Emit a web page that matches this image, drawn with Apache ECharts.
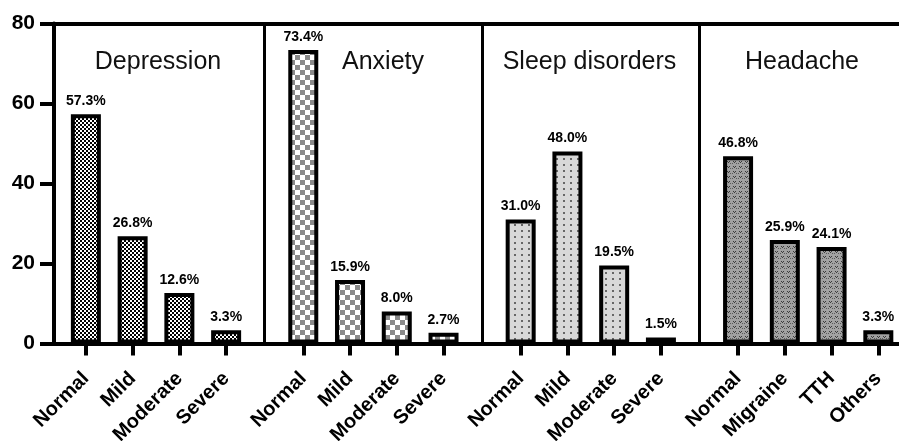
<!DOCTYPE html>
<html>
<head>
<meta charset="utf-8">
<script src="https://cdn.jsdelivr.net/npm/echarts@6/dist/echarts.min.js"></script>
<style>
  html, body { margin: 0; padding: 0; background: #fff; }
  #chart { width: 899px; height: 441px; }
</style>
</head>
<body>
<div id="chart"></div>
<script>
// Prevalence (%) by panel
const panelTitles = ['Depression', 'Anxiety', 'Sleep disorders', 'Headache'];
const depressionLevels = ['Normal', 'Mild', 'Moderate', 'Severe'];
const depressionPct = [57.3, 26.8, 12.6, 3.3];
const anxietyLevels = ['Normal', 'Mild', 'Moderate', 'Severe'];
const anxietyPct = [73.4, 15.9, 8.0, 2.7];
const sleepLevels = ['Normal', 'Mild', 'Moderate', 'Severe'];
const sleepPct = [31.0, 48.0, 19.5, 1.5];
const headacheTypes = ['Normal', 'Migraine', 'TTH', 'Others'];
const headachePct = [46.8, 25.9, 24.1, 3.3];
const yTicks = [0, 20, 40, 60, 80];

const FONT = '"Liberation Sans", Arial, Helvetica, sans-serif';

// Small tiled fills for each panel's bars
function tile(w, h, bg, draw) {
  const c = document.createElement('canvas');
  c.width = w; c.height = h;
  const g = c.getContext('2d');
  g.fillStyle = bg; g.fillRect(0, 0, w, h);
  draw(g);
  return { image: c, repeat: 'repeat' };
}
const fills = [
  // fine black checker
  tile(4, 4, '#ffffff', g => { g.fillStyle = '#000'; g.fillRect(0, 0, 2, 2); g.fillRect(2, 2, 2, 2); }),
  // coarse grey checker
  tile(10, 10, '#ffffff', g => { g.fillStyle = '#8a8a8a'; g.fillRect(0, 0, 5, 5); g.fillRect(5, 5, 5, 5); }),
  // light grey with sparse dots
  tile(7, 6, '#d8d8d8', g => { g.fillStyle = '#666'; g.fillRect(3, 2, 2, 2); }),
  // mid grey with small dark marks
  tile(6, 5, '#a2a2a2', g => {
    g.fillStyle = '#3a3a3a';
    g.fillRect(1, 1, 1, 1); g.fillRect(3, 1, 1, 1); g.fillRect(2, 2, 1, 1);
    g.fillStyle = '#5a5a5a';
    g.fillRect(4, 3, 1, 1); g.fillRect(0, 3, 1, 1);
  })
];

const groups = [
  { cats: depressionLevels, vals: depressionPct },
  { cats: anxietyLevels, vals: anxietyPct },
  { cats: sleepLevels, vals: sleepPct },
  { cats: headacheTypes, vals: headachePct }
];

// layout
const TOP = 23.5, BOTTOM = 97.5;
const FIRST_LEFT = 62.5, PERIOD = 217.4, GROUP_W = 187;
const titleX = [158, 383, 589.5, 802];

const grids = [{ left: 54, right: 0, top: TOP, bottom: BOTTOM, outerBoundsMode: 'none', containLabel: false }];
const xAxes = [
  { gridIndex: 0, type: 'value', min: 0, max: 1, position: 'bottom',
    axisLine: { show: true, onZero: false, lineStyle: { color: '#000', width: 4 } },
    axisTick: { show: false }, axisLabel: { show: false }, splitLine: { show: false } },
  { gridIndex: 0, type: 'value', min: 0, max: 1, position: 'top',
    axisLine: { show: true, onZero: false, lineStyle: { color: '#000', width: 4 } },
    axisTick: { show: false }, axisLabel: { show: false }, splitLine: { show: false } }
];
const yAxes = [
  { gridIndex: 0, type: 'value', min: 0, max: 80, interval: 20,
    axisLine: { show: true, lineStyle: { color: '#000', width: 4 } },
    axisTick: { show: true, length: 14, lineStyle: { color: '#000', width: 4 } },
    axisLabel: { margin: 19, color: '#000', fontSize: 21, fontWeight: 'bold', fontFamily: FONT,
      formatter: v => yTicks.includes(v) ? String(v) : '' },
    splitLine: { show: false } }
];
const series = [];

groups.forEach((grp, i) => {
  const gi = i + 1;
  grids.push({ left: FIRST_LEFT + i * PERIOD, width: GROUP_W, top: TOP, bottom: BOTTOM,
    outerBoundsMode: 'none', containLabel: false });
  xAxes.push({
    gridIndex: gi, type: 'category', data: grp.cats,
    axisLine: { show: false },
    axisTick: { show: true, alignWithLabel: true, length: 12, lineStyle: { color: '#000', width: 4 } },
    axisLabel: { interval: 0, rotate: 45, margin: 32, color: '#000', fontSize: 20,
      fontWeight: 'bold', fontFamily: FONT }
  });
  yAxes.push({
    gridIndex: gi, type: 'value', min: 0, max: 80, interval: 20,
    offset: 15.5,
    axisLine: { show: i > 0, lineStyle: { color: '#000', width: 3 } },
    axisTick: { show: false }, axisLabel: { show: false }, splitLine: { show: false }
  });
  series.push({
    type: 'bar', xAxisIndex: i + 2, yAxisIndex: gi, data: grp.vals,
    barWidth: 30,
    itemStyle: { color: fills[i], borderColor: '#000', borderWidth: 4 },
    label: { show: true, position: 'top', distance: 6, color: '#000', fontSize: 14,
      fontWeight: 'bold', fontFamily: FONT, formatter: p => p.value.toFixed(1) + '%' }
  });
});

const titles = panelTitles.map((t, i) => ({
  text: t, left: titleX[i], top: 50, textAlign: 'center', padding: 0,
  textStyle: { fontSize: 25, fontWeight: 'normal', color: '#111', fontFamily: FONT }
}));

const chart = echarts.init(document.getElementById('chart'), null, { renderer: 'canvas' });
chart.setOption({
  animation: false,
  backgroundColor: '#fff',
  title: titles,
  grid: grids,
  xAxis: xAxes,
  yAxis: yAxes,
  series: series
});
</script>
</body>
</html>
